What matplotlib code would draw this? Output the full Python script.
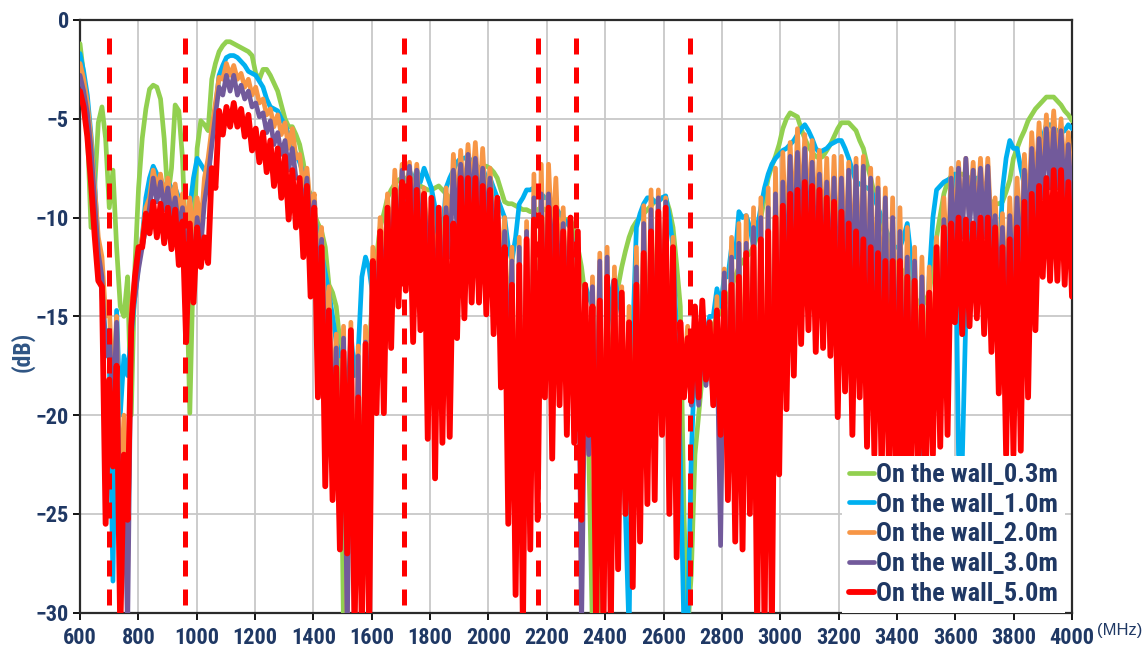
import os
import numpy as np
import matplotlib
matplotlib.use("Agg")
import matplotlib.pyplot as plt
from matplotlib import font_manager
from matplotlib.font_manager import FontProperties

# band edges marked with red dashed lines (MHz)
band_edges = [698, 960, 1710, 2170, 2300, 2690]

x_ticks = list(range(600, 4001, 200))
y_ticks = [0, -5, -10, -15, -20, -25, -30]

labels = ["On the wall_0.3m", "On the wall_1.0m", "On the wall_2.0m",
          "On the wall_3.0m", "On the wall_5.0m"]
colors = ["#92D050", "#00B0F0", "#F79646", "#725A9B", "#FF0000"]

# each series: local maxima (peaks) and local minima (dips), read every ~25 MHz
# from 600 MHz; peaks and dips alternate along the frequency axis
green_peaks = [
    -1.2, -5.5, -8.5, -4.4, -9.5, -11.5, -15.0, -20.0,
    -8.5, -4.5, -3.3, -4.0, -9.0, -4.3, -7.0, -19.9,
    -6.5, -5.3, -3.0, -1.6, -1.1, -1.2, -1.4, -1.6,
    -2.7, -2.5, -2.8, -3.6, -5.0, -5.4, -6.3, -8.5,
    -9.8, -10.7, -13.4, -14.5, -31.0, -31.0, -31.0, -22.0,
    -13.4, -10.5, -9.0, -8.3, -8.0, -8.0, -8.3, -8.5,
    -8.6, -8.4, -8.8, -9.0, -8.5, -8.0, -7.6, -7.4,
    -7.5, -8.0, -9.2, -9.3, -9.5, -9.6, -9.7, -9.5,
    -9.7, -10.0, -10.1, -10.1, -11.5, -14.0, -31.0, -31.0,
    -20.0, -15.0, -12.5, -11.0, -10.2, -9.8, -9.4, -9.1,
    -9.0, -10.5, -14.5, -31.0, -22.0, -18.0, -16.0, -15.0,
    -14.5, -13.5, -12.5, -12.0, -11.5, -10.0, -8.0, -6.9,
    -5.5, -4.7, -4.9, -6.0, -6.7, -7.0, -6.6, -5.9,
    -5.2, -5.2, -5.6, -6.5, -8.0, -9.5, -11.0, -12.0,
    -12.5, -13.0, -14.0, -14.5, -13.8, -11.0, -8.8, -7.9,
    -7.8, -7.9, -8.2, -8.5, -9.0, -9.3, -9.2, -8.1,
    -6.5, -5.6, -4.8, -4.3, -3.9, -3.9, -4.3, -4.8,
]
green_dips = [
    -2.8, -10.5, -5.2, -6.0, -7.6, -14.5, -13.0, -12.5,
    -6.0, -3.5, -3.4, -6.0, -7.5, -4.6, -12.0, -12.0,
    -5.1, -5.6, -2.2, -1.3, -1.1, -1.3, -1.5, -1.8,
    -3.0, -2.5, -3.2, -4.3, -5.4, -5.8, -7.2, -8.8,
    -10.3, -11.5, -13.8, -16.3, -31.0, -31.0, -31.0, -17.0,
    -12.0, -9.8, -8.6, -8.1, -8.0, -8.1, -8.4, -8.6,
    -8.5, -8.6, -9.0, -8.8, -8.2, -7.8, -7.5, -7.4,
    -7.7, -8.6, -9.3, -9.4, -9.6, -9.7, -9.6, -9.6,
    -9.8, -10.0, -10.1, -10.6, -12.5, -22.0, -31.0, -25.0,
    -17.0, -13.5, -11.7, -10.5, -10.0, -9.6, -9.2, -9.0,
    -9.6, -12.4, -25.0, -28.0, -20.0, -17.0, -15.5, -14.8,
    -14.0, -13.0, -12.2, -11.8, -10.9, -9.0, -7.4, -6.3,
    -5.0, -4.8, -5.5, -6.4, -6.9, -6.9, -6.3, -5.5,
    -5.2, -5.4, -6.1, -7.3, -8.8, -10.3, -11.5, -12.5,
    -12.8, -13.5, -14.3, -14.2, -12.5, -9.9, -8.2, -7.8,
    -7.8, -8.0, -8.4, -8.8, -9.2, -9.3, -8.7, -7.0,
    -6.0, -5.1, -4.5, -4.1, -3.9, -4.1, -4.6, -5.1,
]

blue_peaks = [
    -1.7, -3.8, -8.2, -14.0, -17.2, -14.7, -17.0, -16.0,
    -12.4, -9.0, -7.4, -8.0, -8.2, -8.5, -9.5, -9.5,
    -7.0, -7.6, -6.1, -2.8, -1.9, -1.8, -2.1, -2.6,
    -2.8, -3.4, -4.4, -4.6, -5.3, -6.3, -7.2, -8.4,
    -9.9, -11.8, -13.8, -16.3, -17.0, -15.8, -16.8, -12.0,
    -14.0, -11.5, -9.8, -8.5, -8.0, -7.6, -7.6, -7.5,
    -8.5, -11.5, -8.5, -7.6, -7.0, -6.9, -7.3, -7.5,
    -8.0, -9.0, -10.0, -12.2, -9.3, -8.6, -8.5, -8.8,
    -9.0, -9.5, -10.0, -10.5, -13.0, -13.4, -14.5, -22.0,
    -16.0, -13.0, -15.0, -31.0, -10.5, -9.3, -9.0, -9.2,
    -8.9, -11.5, -22.0, -31.0, -17.0, -16.0, -15.0, -13.6,
    -13.0, -11.5, -9.7, -9.9, -11.5, -9.5, -7.8, -7.0,
    -6.6, -6.3, -5.8, -5.3, -6.0, -6.7, -6.5, -6.2,
    -6.1, -7.0, -8.2, -8.4, -8.6, -9.5, -10.5, -11.5,
    -11.5, -10.3, -15.3, -22.0, -13.0, -8.6, -8.2, -8.0,
    -22.0, -15.0, -8.5, -8.0, -9.0, -10.0, -8.6, -6.1,
    -6.5, -8.4, -11.0, -7.0, -5.3, -5.5, -5.7, -5.3,
]
blue_dips = [
    -2.6, -5.8, -11.5, -16.0, -28.4, -20.0, -18.0, -14.0,
    -11.0, -8.0, -7.8, -8.6, -8.5, -9.0, -10.0, -8.0,
    -7.3, -7.8, -4.5, -2.3, -1.8, -1.9, -2.3, -2.7,
    -3.1, -4.0, -4.5, -5.0, -5.8, -6.8, -7.8, -9.0,
    -10.8, -12.8, -15.0, -17.0, -20.0, -18.0, -13.0, -12.6,
    -14.5, -12.5, -10.5, -9.2, -8.6, -8.2, -8.2, -8.0,
    -9.5, -11.0, -8.0, -7.2, -7.0, -7.2, -7.5, -8.0,
    -8.5, -9.5, -11.5, -11.0, -9.0, -8.6, -8.7, -9.0,
    -9.3, -9.8, -10.3, -12.0, -21.0, -14.0, -18.0, -25.0,
    -14.0, -14.0, -25.0, -16.0, -9.8, -9.0, -9.2, -9.0,
    -10.0, -16.0, -31.0, -22.0, -17.0, -16.0, -15.0, -14.5,
    -13.0, -12.0, -10.0, -10.5, -10.5, -8.5, -7.3, -6.8,
    -6.5, -6.1, -5.5, -5.6, -6.5, -6.6, -6.3, -6.1,
    -6.5, -7.6, -8.3, -8.5, -9.0, -10.0, -11.0, -11.5,
    -11.0, -12.0, -21.0, -18.0, -10.0, -8.4, -8.1, -7.8,
    -22.5, -10.0, -8.0, -8.5, -9.5, -13.0, -7.0, -6.5,
    -7.5, -10.0, -9.0, -6.0, -5.3, -5.6, -5.6, -5.5,
]

orange_peaks = [
    -2.2, -4.2, -8.5, -12.0, -14.5, -15.0, -20.0, -14.5,
    -12.0, -9.5, -7.6, -7.8, -8.0, -8.3, -8.8, -9.0,
    -9.0, -8.0, -5.5, -2.9, -2.2, -2.3, -2.7, -3.0,
    -3.4, -4.0, -4.5, -4.8, -5.2, -5.5, -6.8, -7.5,
    -8.8, -10.5, -13.5, -15.9, -15.5, -15.3, -16.5, -15.5,
    -11.5, -10.0, -8.8, -7.6, -7.3, -7.2, -7.3, -8.5,
    -9.5, -10.5, -8.5, -6.8, -6.6, -6.3, -6.2, -6.5,
    -7.5, -9.0, -10.0, -11.5, -11.0, -10.2, -7.8, -7.3,
    -7.3, -8.0, -9.5, -10.0, -11.0, -15.0, -13.0, -11.8,
    -11.5, -12.5, -13.5, -14.5, -11.5, -9.4, -8.6, -8.6,
    -9.0, -11.0, -16.0, -15.5, -15.0, -14.9, -15.5, -14.0,
    -12.6, -11.0, -10.3, -9.9, -9.5, -9.0, -8.5, -7.5,
    -6.7, -6.2, -5.5, -5.8, -6.1, -6.6, -7.0, -6.9,
    -6.9, -7.2, -7.0, -6.9, -7.5, -8.0, -8.5, -9.0,
    -9.5, -10.5, -11.5, -12.0, -12.5, -11.0, -9.0, -7.5,
    -7.2, -7.0, -7.2, -7.0, -7.0, -9.0, -9.8, -9.0,
    -8.0, -6.8, -5.7, -5.2, -4.8, -4.6, -5.0, -5.7,
]
orange_dips = [
    -3.0, -6.0, -11.0, -15.0, -19.0, -25.0, -28.0, -13.0,
    -11.0, -9.0, -8.5, -9.0, -9.3, -9.8, -10.5, -11.0,
    -10.5, -7.0, -4.2, -3.0, -2.8, -3.0, -3.4, -3.8,
    -4.2, -4.8, -5.4, -5.8, -6.5, -7.0, -8.5, -9.6,
    -12.5, -16.0, -20.0, -25.0, -31.0, -29.0, -28.0, -20.0,
    -14.0, -13.0, -12.0, -11.0, -10.0, -10.0, -10.5, -11.5,
    -12.5, -13.5, -11.5, -10.0, -9.5, -9.0, -9.5, -10.0,
    -10.5, -13.0, -17.0, -26.0, -29.0, -24.0, -20.0, -16.0,
    -11.5, -13.0, -14.5, -16.0, -27.0, -21.0, -22.0, -28.0,
    -28.0, -25.0, -23.0, -25.0, -22.0, -20.0, -18.0, -17.0,
    -20.0, -24.0, -18.0, -19.0, -19.0, -18.0, -19.0, -24.0,
    -20.0, -23.0, -22.0, -22.0, -26.0, -28.0, -24.0, -18.0,
    -12.0, -11.0, -10.5, -10.5, -11.0, -12.0, -12.5, -13.0,
    -13.0, -13.5, -14.0, -14.5, -15.0, -16.0, -17.0, -18.0,
    -19.0, -20.0, -20.0, -20.0, -19.0, -16.0, -13.0, -11.0,
    -10.5, -10.0, -10.5, -10.5, -11.0, -13.0, -14.5, -13.0,
    -12.0, -10.5, -9.0, -8.0, -7.5, -7.5, -8.0, -8.5,
]

purple_peaks = [
    -2.8, -4.7, -9.2, -13.0, -15.7, -15.3, -22.0, -15.1,
    -12.6, -10.5, -8.0, -8.2, -8.5, -9.0, -9.5, -11.0,
    -10.0, -9.2, -6.3, -3.4, -2.8, -2.8, -3.3, -3.6,
    -4.2, -4.7, -5.1, -5.7, -6.1, -6.5, -8.0, -8.0,
    -9.2, -11.1, -14.7, -16.6, -16.1, -16.9, -17.0, -16.3,
    -12.3, -11.0, -9.5, -8.6, -7.6, -7.4, -7.6, -9.0,
    -10.0, -11.3, -9.5, -7.6, -7.3, -6.8, -7.0, -7.5,
    -8.0, -9.5, -10.7, -12.2, -11.5, -10.7, -9.0, -8.8,
    -8.8, -9.5, -10.3, -10.5, -11.5, -16.5, -13.5, -12.2,
    -12.0, -13.2, -14.0, -15.3, -12.5, -10.3, -9.6, -9.0,
    -9.2, -11.5, -17.2, -16.5, -16.0, -16.0, -16.5, -16.0,
    -12.8, -12.0, -11.3, -11.3, -10.5, -10.0, -9.5, -8.8,
    -8.2, -6.9, -6.7, -6.5, -7.2, -7.8, -8.2, -8.0,
    -8.0, -7.6, -7.4, -7.4, -8.0, -8.5, -9.0, -10.0,
    -10.7, -12.0, -12.2, -13.0, -13.8, -12.2, -10.1, -8.0,
    -7.5, -7.0, -7.6, -7.5, -7.4, -9.9, -10.5, -9.9,
    -9.0, -7.6, -6.5, -6.0, -5.5, -5.5, -5.6, -6.3,
]
purple_dips = [
    -3.6, -6.5, -11.8, -17.0, -20.0, -28.0, -31.0, -14.0,
    -11.5, -9.5, -9.2, -9.6, -10.0, -10.5, -11.6, -12.5,
    -11.5, -8.0, -4.8, -3.8, -3.6, -3.8, -4.0, -4.4,
    -4.9, -5.7, -6.3, -6.8, -7.6, -8.0, -9.6, -10.7,
    -13.4, -17.3, -21.1, -26.8, -31.0, -31.0, -31.0, -21.1,
    -15.0, -14.0, -12.5, -11.5, -10.5, -10.5, -11.0, -12.0,
    -13.0, -14.0, -12.0, -10.5, -10.0, -9.5, -10.0, -10.5,
    -11.0, -14.0, -18.0, -28.0, -31.0, -26.0, -22.0, -17.0,
    -12.5, -14.0, -15.0, -17.0, -31.0, -22.0, -24.0, -31.0,
    -31.0, -27.0, -25.0, -27.6, -24.0, -22.0, -20.0, -18.0,
    -22.0, -26.0, -18.5, -19.5, -19.5, -18.5, -19.5, -26.6,
    -22.0, -25.0, -24.0, -24.0, -28.0, -31.0, -27.0, -21.0,
    -14.0, -12.5, -12.0, -12.0, -13.0, -13.5, -14.0, -15.0,
    -14.5, -15.0, -15.5, -16.0, -16.5, -18.0, -19.0, -20.0,
    -21.0, -22.0, -22.0, -22.0, -21.0, -18.0, -15.0, -12.0,
    -11.0, -10.5, -11.0, -11.0, -12.0, -14.0, -16.0, -14.0,
    -13.0, -11.5, -10.0, -9.0, -8.5, -8.5, -9.0, -9.5,
]

red_peaks = [
    -3.6, -5.9, -10.9, -13.5, -18.2, -17.5, -22.0, -15.5,
    -11.5, -9.8, -9.2, -9.3, -9.5, -9.6, -10.2, -10.3,
    -10.5, -11.0, -7.5, -4.6, -4.4, -4.2, -4.5, -4.8,
    -5.5, -5.7, -6.1, -6.5, -6.9, -7.6, -8.0, -8.4,
    -9.5, -11.5, -14.7, -17.6, -16.8, -15.7, -19.1, -16.4,
    -12.2, -10.7, -9.5, -8.6, -8.2, -8.0, -8.6, -8.8,
    -9.0, -9.5, -10.0, -10.3, -8.0, -8.0, -8.0, -8.4,
    -8.6, -9.0, -11.5, -13.4, -12.4, -11.1, -10.1, -10.0,
    -9.5, -9.5, -10.7, -10.0, -10.7, -13.4, -14.5, -14.2,
    -13.0, -13.2, -13.8, -15.3, -13.4, -11.8, -10.7, -9.7,
    -9.5, -11.5, -15.3, -16.1, -14.5, -14.2, -15.3, -14.7,
    -13.8, -13.4, -13.0, -11.8, -11.5, -11.1, -10.7, -10.0,
    -9.4, -8.8, -8.6, -8.2, -8.4, -8.6, -9.0, -9.2,
    -9.7, -10.3, -10.7, -11.1, -11.5, -11.8, -12.2, -12.2,
    -12.2, -13.0, -13.2, -14.5, -13.8, -11.5, -10.5, -10.3,
    -10.0, -10.1, -10.3, -10.0, -10.0, -10.5, -11.5, -11.1,
    -10.5, -9.2, -8.8, -8.4, -8.0, -7.6, -7.6, -8.2,
]
red_dips = [
    -4.4, -8.2, -13.2, -25.5, -22.6, -31.0, -25.3, -13.0,
    -11.5, -10.8, -11.0, -11.3, -11.6, -12.4, -16.3, -14.3,
    -12.5, -12.3, -8.5, -5.8, -5.4, -5.4, -5.9, -6.6,
    -7.2, -7.7, -8.4, -9.0, -10.1, -10.5, -12.0, -14.0,
    -19.1, -23.6, -24.3, -26.8, -27.0, -31.0, -31.0, -31.0,
    -19.9, -19.9, -16.6, -14.5, -13.7, -16.3, -15.7, -21.2,
    -23.2, -21.4, -21.1, -16.1, -15.1, -14.3, -14.3, -14.9,
    -15.9, -18.6, -25.5, -29.1, -31.0, -26.8, -25.3, -19.1,
    -22.2, -19.5, -21.0, -21.4, -25.3, -21.0, -31.0, -31.0,
    -31.0, -27.8, -25.0, -28.7, -26.4, -24.5, -24.3, -21.0,
    -25.0, -27.2, -19.1, -19.3, -19.1, -18.2, -19.5, -21.0,
    -24.3, -26.4, -26.8, -25.0, -31.0, -31.0, -31.0, -23.0,
    -19.7, -18.0, -16.4, -15.7, -16.8, -16.6, -17.0, -20.1,
    -18.8, -21.0, -19.1, -21.6, -22.0, -23.0, -23.0, -25.0,
    -25.0, -24.0, -23.0, -24.0, -22.0, -21.6, -21.0, -15.3,
    -15.9, -15.5, -15.1, -15.9, -16.8, -18.9, -22.0, -22.0,
    -21.8, -19.1, -15.7, -13.0, -13.2, -13.2, -13.4, -14.0,
]

series = [
    (green_peaks, green_dips),
    (blue_peaks, blue_dips),
    (orange_peaks, orange_dips),
    (purple_peaks, purple_dips),
    (red_peaks, red_dips),
]

navy = "#1F3864"


def zigzag(peaks, dips):
    '''puts peaks and dips one after the other'''
    y = np.empty(len(peaks) + len(dips))
    y[0::2] = peaks
    y[1::2] = dips
    return y


def narrow_bold_font():
    '''looks for a narrow bold sans font, like the squeezed Arial of the original'''
    wanted = ["liberationsansnarrow-bold.", "arialnarrowbold", "robotocondensed-bold.",
              "notosans-condensedbold.", "opensans-condensedbold.", "opensans_condensed-bold."]
    files = [f.fname for f in font_manager.fontManager.ttflist]
    for w in wanted:
        for f in files:
            if w in os.path.basename(f).lower().replace(" ", ""):
                return f
    return None


narrow = narrow_bold_font()
if narrow:
    tick_font = FontProperties(fname=narrow, size=16)
    legend_font = FontProperties(fname=narrow, size=19)
    label_font = FontProperties(fname=narrow, size=17)
else:
    tick_font = FontProperties(family="Liberation Sans", weight="bold", size=13)
    legend_font = FontProperties(family="Liberation Sans", weight="bold", size=16)
    label_font = FontProperties(family="Liberation Sans", weight="bold", size=15)

fig = plt.figure(figsize=(11.47, 6.5), dpi=100)
ax = fig.add_axes([80 / 1147, 1 - 612.7 / 650, 992 / 1147, 592.7 / 650])

n = len(red_peaks) + len(red_dips)
freq = np.linspace(600, 4000, n)

for (peaks, dips), label, color in zip(series, labels, colors):
    lw = 4.2 if color == "#FF0000" else 3.4
    ax.plot(freq, zigzag(peaks, dips), color=color, lw=lw, label=label,
            solid_joinstyle="round", solid_capstyle="round", zorder=3)

for edge in band_edges:
    ax.plot([edge, edge], [-0.9, -30], color="#FF0000", lw=3.6,
            linestyle=(0, (3.2, 2.6)), dash_capstyle="butt", zorder=5)

ax.set_xlim(600, 4000)
ax.set_ylim(-30, 0)
ax.set_xticks(x_ticks)
ax.set_yticks(y_ticks)
ax.grid(True, color="#C8C8C8", linewidth=1.3)
ax.set_axisbelow(True)

for side in ["left", "bottom", "top", "right"]:
    ax.spines[side].set_linewidth(1.6)
    ax.spines[side].set_color("#2B2B2B")

ax.tick_params(axis="both", direction="out", length=5, width=1.3, colors="black")
ax.tick_params(axis="x", pad=5)
ax.tick_params(axis="y", pad=3)
for lbl in ax.get_xticklabels() + ax.get_yticklabels():
    lbl.set_fontproperties(tick_font)
    lbl.set_color(navy)

fig.text(22 / 1147, 1 - 352 / 650, "(dB)", rotation=90, ha="center", va="center",
         fontproperties=label_font, color="#2F5584")
fig.text(1097 / 1147, 1 - 631 / 650, "(MHz)", ha="left", va="center",
         family="Liberation Sans", fontsize=12, color=navy)

leg = ax.legend(loc="lower right", bbox_to_anchor=(0.993, 0.0), borderaxespad=0.0,
                frameon=True, fancybox=False, facecolor="white", edgecolor="none",
                framealpha=1, prop=legend_font, handlelength=0.95, handletextpad=0.1,
                labelspacing=0.22, borderpad=0.25)
leg.set_zorder(10)
for t in leg.get_texts():
    t.set_color(navy)

fig.savefig("out.png", dpi=100)
